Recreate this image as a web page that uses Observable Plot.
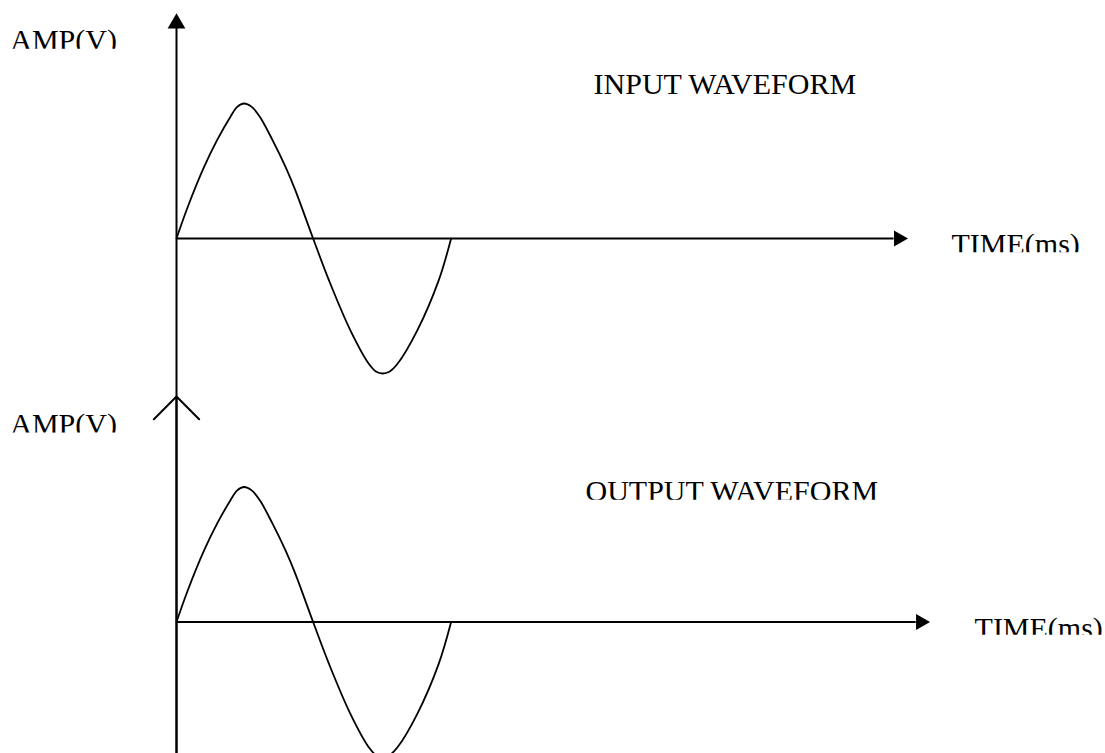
<!DOCTYPE html>
<html>
<head>
<meta charset="utf-8">
<script src="https://cdn.jsdelivr.net/npm/d3@7"></script>
<script src="https://cdn.jsdelivr.net/npm/@observablehq/plot@0.6"></script>
<style>
  html, body { margin: 0; padding: 0; background: white; }
  svg { display: block; }
</style>
</head>
<body>
<script>
// ---- data (time in ms, amplitude in V) ----
const time      = [0, 0.8, 2, 2.95, 3.9, 4.4, 4.9, 5.45, 6.05, 6.95, 7.9, 8.6, 9.9, 11.05, 12.6, 13.95, 14.45, 14.95, 15.45, 16, 17.45, 19, 19.9];
const inputAmp  = [0, 0.23, 0.53, 0.73, 0.9, 0.975, 1, 0.975, 0.9, 0.73, 0.53, 0.36, 0, -0.31, -0.68, -0.93, -0.985, -1, -0.985, -0.93, -0.68, -0.31, 0];
const outputAmp = [0, 0.23, 0.53, 0.73, 0.9, 0.975, 1, 0.975, 0.9, 0.73, 0.53, 0.36, 0, -0.31, -0.68, -0.93, -0.985, -1, -0.985, -0.93, -0.68, -0.31, 0];
const inputLabels  = ["AMP(V)", "INPUT WAVEFORM", "TIME(ms)"];
const outputLabels = ["AMP(V)", "OUTPUT WAVEFORM", "TIME(ms)"];
const timeAxisEnd = [52.0, 53.6];   // end of the time axis shaft, per panel
const ampAxisTop  = [1.556, 1.67];  // top of the amplitude axis, per panel

const FONT = "'Liberation Serif', 'Times New Roman', Times, serif";

function panel({amp, labels, layout, axisEnd, ampTop, yRange, filledUp, height}) {
  const pts = time.map((t, i) => ({t, v: amp[i]}));
  const marks = [
    Plot.line(pts, {x: "t", y: "v", curve: "catmull-rom", stroke: "black", strokeWidth: 1.8}),
    Plot.ruleY([0], {x1: () => 0, x2: () => axisEnd, stroke: "black", strokeWidth: 1.8}),
    Plot.dot([0], {x: () => axisEnd + 0.33, y: () => 0, symbol: "triangle", r: 6, rotate: 90, fill: "black", stroke: "none"})
  ];
  if (filledUp) {
    marks.push(Plot.ruleX([0], {y1: () => -1.2, y2: () => ampTop, stroke: "black", strokeWidth: 2}));
    marks.push(Plot.dot([0], {x: () => 0, y: () => ampTop + 0.037, symbol: "triangle", r: 6.6, fill: "black", stroke: "none"}));
  } else {
    // shaft continues up from the upper panel through the open arrowhead
    marks.push(Plot.ruleX([0], {y1: () => -1.2, y2: () => 1.9, stroke: "black", strokeWidth: 2}));
    marks.push(Plot.arrow([0], {x1: () => 0, y1: () => -1.2, x2: () => 0, y2: () => ampTop,
      headAngle: 90, headLength: 24, stroke: "black", strokeWidth: 2}));
  }
  marks.push(Plot.text(labels, {
    x: (d, i) => layout[i].x, y: (d, i) => layout[i].y, text: d => d,
    textAnchor: "start", lineAnchor: "top", fontSize: 30, fontFamily: FONT, fill: "black"
  }));
  const svg = Plot.plot({
    width: 1105, height,
    marginTop: 0, marginRight: 0, marginBottom: 0, marginLeft: 0,
    x: {domain: [0, 20], range: [176, 452], axis: null},
    y: {domain: [-1, 1], range: yRange, axis: null},
    style: {background: "white", fontFamily: FONT, overflow: "hidden"},
    marks
  });
  document.body.appendChild(svg);
  // clip label bottoms as in the reference
  const texts = svg.querySelectorAll('g[aria-label="text"] text');
  const ns = "http://www.w3.org/2000/svg";
  const defs = document.createElementNS(ns, "defs");
  svg.insertBefore(defs, svg.firstChild);
  texts.forEach((el, i) => {
    const id = "clip" + Math.random().toString(36).slice(2);
    const cp = document.createElementNS(ns, "clipPath");
    cp.setAttribute("id", id);
    const r = document.createElementNS(ns, "rect");
    r.setAttribute("x", 0); r.setAttribute("y", 0);
    r.setAttribute("width", 1105); r.setAttribute("height", layout[i].clip);
    cp.appendChild(r); defs.appendChild(cp);
    const g = document.createElementNS(ns, "g");
    g.setAttribute("clip-path", `url(#${id})`);
    el.parentNode.insertBefore(g, el);
    g.appendChild(el);
  });
}

panel({
  amp: inputAmp, labels: inputLabels, axisEnd: timeAxisEnd[0], ampTop: ampAxisTop[0],
  yRange: [373, 103], filledUp: true, height: 384,
  layout: [
    {x: -12.05, y: 1.553, clip: 48.3},
    {x: 30.22, y: 1.227, clip: 94.3},
    {x: 56.16, y: 0.042, clip: 251.7}
  ]
});
panel({
  amp: outputAmp, labels: outputLabels, axisEnd: timeAxisEnd[1], ampTop: ampAxisTop[1],
  yRange: [372.5, 102.5], filledUp: false, height: 369,
  layout: [
    {x: -12.05, y: 1.553, clip: 48.0},
    {x: 29.64, y: 1.056, clip: 115.3},
    {x: 57.83, y: 0.041, clip: 250.3}
  ]
});
</script>
</body>
</html>
